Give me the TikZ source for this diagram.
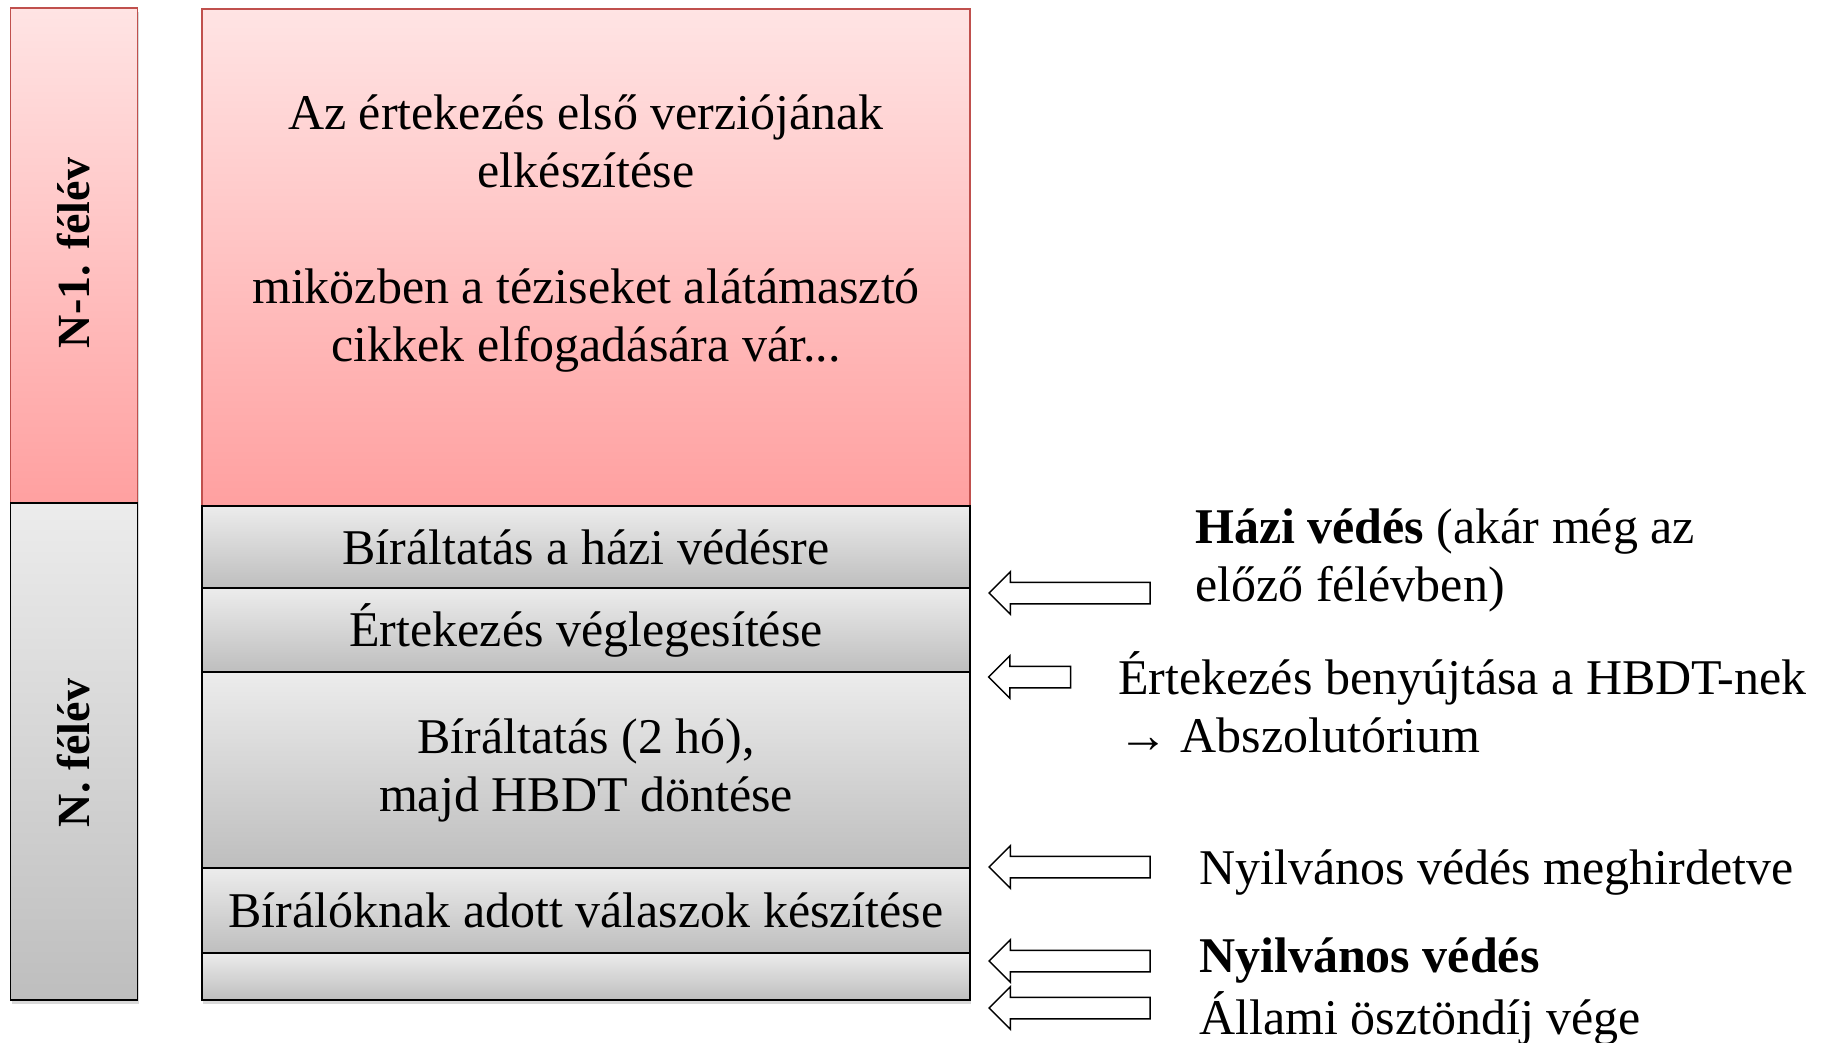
\documentclass[tikz,border=0pt]{standalone}
\usepackage{fontspec}
\setmainfont{Liberation Serif}
\usetikzlibrary{shapes.arrows,shadows}
\definecolor{pinktop}{RGB}{255,228,228}
\definecolor{pinkbot}{RGB}{255,160,160}
\definecolor{pinkline}{RGB}{192,80,77}
\definecolor{graytop}{RGB}{236,236,236}
\definecolor{graybot}{RGB}{190,190,190}

\begin{document}
\begin{tikzpicture}[x=1pt,y=-1pt,
  txt/.style={font=\fontsize{50}{58}\selectfont},
  shade/.style={drop shadow={shadow xshift=1pt,shadow yshift=-4pt,opacity=.3}},
  pinkbox/.style={draw=pinkline,line width=1.5pt,top color=pinktop,bottom color=pinkbot,shade,inner sep=0pt,align=center,txt},
  graybox/.style={draw=black,line width=1.5pt,top color=graytop,bottom color=graybot,shade,inner sep=0pt,align=center,txt},
  semlabel/.style={rotate=90,inner sep=0pt,font=\fontsize{46}{52}\selectfont\bfseries},
  note/.style={anchor=west,align=left,inner sep=0pt,txt},
  hollowarrow/.style={single arrow,draw=black,line width=1.5pt,fill=white,shape border rotate=180,inner xsep=0pt,inner ysep=10pt,single arrow head extend=10.5pt}]
  \useasboundingbox (0,0) rectangle (1823,1043);

  % semesters
  \node[pinkbox,minimum width=127,minimum height=495] (s1) at (74,255.5) {};
  \node[graybox,minimum width=127,minimum height=497] (s2) at (74,751.5) {};
  \node[semlabel] (l1) at (74,253) {N-1. félév};
  \node[semlabel] (l2) at (74,753) {N. félév};

  % steps
  \node[pinkbox,minimum width=768,minimum height=497] (p0) at (586,257.5)
    {Az értekezés első verziójának\\elkészítése\\~\\miközben a téziseket alátámasztó\\cikkek elfogadására vár...\\~};
  \node[graybox,minimum width=768,minimum height=82] (p1) at (586,547) {Bíráltatás a házi védésre};
  \node[graybox,minimum width=768,minimum height=84] (p2) at (586,630) {Értekezés véglegesítése};
  \node[graybox,minimum width=768,minimum height=196] (p3) at (586,770) {Bíráltatás (2 hó),\\majd HBDT döntése};
  \node[graybox,minimum width=768,minimum height=85] (p4) at (586,910.5) {Bírálóknak adott válaszok készítése};
  \node[graybox,minimum width=768,minimum height=47] (p5) at (586,976.5) {};

  % events
  \node[hollowarrow,minimum height=161] (a1) at (1075,593) {};
  \node[hollowarrow,minimum height=82] (a2) at (1035,677) {};
  \node[hollowarrow,minimum height=161] (a3) at (1075,867) {};
  \node[hollowarrow,minimum height=161] (a4) at (1075,961) {};
  \node[hollowarrow,minimum height=161] (a5) at (1075,1008) {};

  \node[note] (e1) at (1195,560) {\textbf{Házi védés} (akár még az\\előző félévben)};
  \node[note] (e2) at (1118,702) {Értekezés benyújtása a HBDT-nek\\→ Abszolutórium};
  \node[note] (e3) at (1199,873) {Nyilvános védés meghirdetve};
  \node[note] (e4) at (1199,961) {\textbf{Nyilvános védés}};
  \node[note] (e5) at (1199,1018) {Állami ösztöndíj vége};

\end{tikzpicture}
\end{document}
